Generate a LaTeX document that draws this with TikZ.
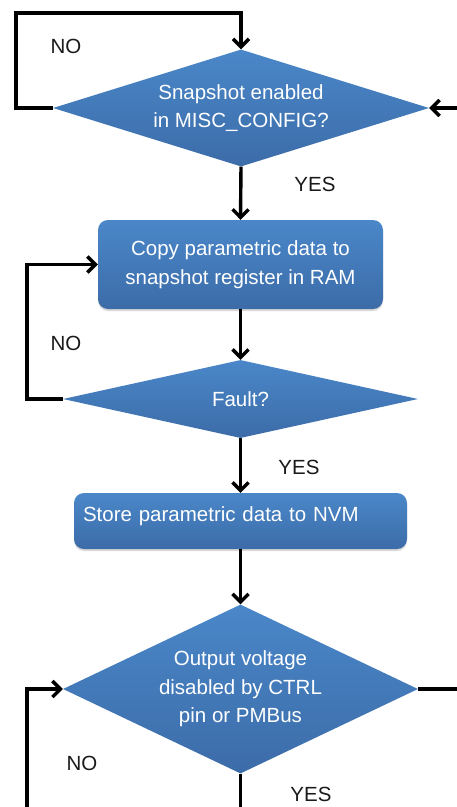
\documentclass[tikz,border=0pt]{standalone}
\usepackage{fontspec}
\setmainfont{Liberation Sans}
\usepackage{tikz}
\usetikzlibrary{arrows.meta,positioning,shapes.geometric,shadows}
\definecolor{flowtop}{HTML}{4A87C9}
\definecolor{flowbot}{HTML}{3C6CA8}
\definecolor{flowink}{HTML}{1A1A1A}
\begin{document}
\begin{tikzpicture}[x=1pt, y=-1pt, >={Straight Barb[length=8pt,width=16pt]}]
  \tikzset{blk/.style={top color=flowtop, bottom color=flowbot, draw=none, text=white, inner sep=0, font=\fontsize{20.5}{28.5}\selectfont, align=center},
           dec/.style={blk, diamond},
           act/.style={blk, rectangle, rounded corners=10pt, drop shadow={shadow xshift=0pt, shadow yshift=-2pt, opacity=0.3}},
           flow/.style={draw=black, line width=3.4pt, ->},
           wire/.style={draw=black, line width=3.4pt},
           tag/.style={text=flowink, font=\fontsize{20.5}{24}\selectfont, inner sep=0}}
  \useasboundingbox (0,0) rectangle (457,807);
  % boxes and decisions
  \node[dec, aspect=3.2, minimum width=376pt, minimum height=117pt] (snap) at (241,108) {Snapshot enabled\\in MISC\_CONFIG?};
  \node[act, minimum width=285pt, minimum height=89pt] (copy) at (240.5,264.5) {Copy parametric data to\\snapshot register in RAM};
  \node[dec, aspect=4.5, minimum width=355pt, minimum height=78pt] (fault) at (240.5,399) {Fault?};
  \node[act, minimum width=333pt, minimum height=56pt, text width=315pt, align=left] (store) at (240.5,521) {Store parametric data to NVM\vphantom{p}\vspace{10pt}};
  \node[dec, aspect=2.1, minimum width=355pt, minimum height=169pt] (outv) at (240.5,689) {Output voltage\\disabled by CTRL\\pin or PMBus};
  % loose ends
  \coordinate (snapin) at (457,108);
  \coordinate (noloopa) at (16,13);
  \coordinate (noloopb) at (27,330);
  \coordinate (noloopc) at (27,807);
  \coordinate (outright) at (457,689);
  \coordinate (outdown) at (240.5,807);
  % connectors
  \draw[flow] (snapin) -- (snap.east);
  \draw[flow] (snap.west) -| (noloopa) -| (snap.north);
  \draw[flow] (snap.south) -- (copy.north);
  \draw[flow] (copy.south) -- (fault.north);
  \draw[flow] (fault.west) -| (noloopb) |- (copy.west);
  \draw[flow] (fault.south) -- (store.north);
  \draw[flow] (store.south) -- (outv.north);
  \draw[flow] (noloopc) |- (outv.west);
  \draw[wire] (outv.east) -- (outright);
  \draw[wire] (outv.south) -- (outdown);
  % labels
  \node[tag] (snapno) at (66,46) {NO};
  \node[tag] (snapyes) at (315,184) {YES};
  \node[tag] (faultno) at (66,343) {NO};
  \node[tag] (faultyes) at (299,467) {YES};
  \node[tag] (outno) at (82,763) {NO};
  \node[tag] (outyes) at (311,794) {YES};
\end{tikzpicture}
\end{document}
